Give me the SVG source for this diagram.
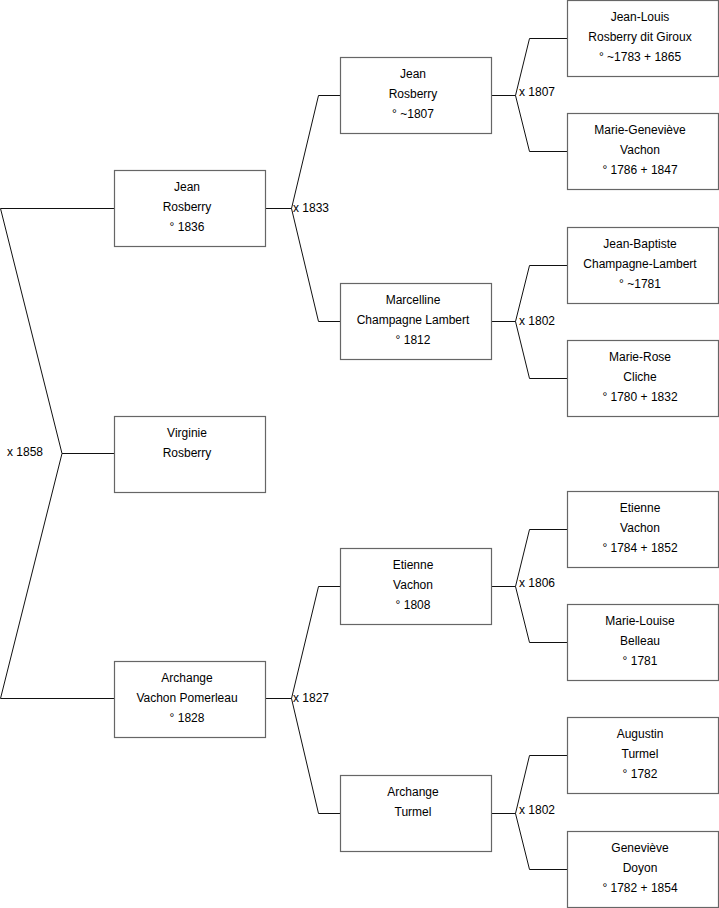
<svg xmlns="http://www.w3.org/2000/svg" width="719" height="908" viewBox="0 0 719 908">
<style>
.box{fill:#fff;stroke:#666;stroke-width:1.2}
.t{font-family:"Liberation Sans",Arial,sans-serif;font-size:12px;fill:#000;text-anchor:middle}
.l{font-family:"Liberation Sans",Arial,sans-serif;font-size:12px;fill:#000}
.c{fill:none;stroke:#111;stroke-width:1}
</style>
<rect width="719" height="908" fill="#fff"/>
<g id="connectors">
<path class="c" d="M0.5 208.5H114M0.5 208.5L62 453.5H114M62 453.5L0.5 698.5H114"/>
<text class="l" x="7" y="456">x 1858</text>
<path class="c" d="M265 208.5H291.5L318.5 95.5H340M291.5 208.5L318.5 321.5H340"/>
<text class="l" x="293" y="212">x 1833</text>
<path class="c" d="M265 698.5H291.5L318.5 586.5H340M291.5 698.5L318.5 813.5H340"/>
<text class="l" x="293" y="702">x 1827</text>
<path class="c" d="M491 95.5H515.5L529.5 38.5H567M515.5 95.5L529.5 151.5H567"/>
<text class="l" x="519" y="96">x 1807</text>
<path class="c" d="M491 321.5H515.5L529.5 265.5H567M515.5 321.5L529.5 378.5H567"/>
<text class="l" x="519" y="325">x 1802</text>
<path class="c" d="M491 586.5H515.5L529.5 529.5H567M515.5 586.5L529.5 642.5H567"/>
<text class="l" x="519" y="587">x 1806</text>
<path class="c" d="M491 813.5H515.5L529.5 755.5H567M515.5 813.5L529.5 869.5H567"/>
<text class="l" x="519" y="814">x 1802</text>
</g>
<g id="n1"><rect class="box" x="114.5" y="170.5" width="151" height="76"/><text class="t" x="187" y="191">Jean</text><text class="t" x="187" y="211">Rosberry</text><text class="t" x="187" y="231">° 1836</text></g>
<g id="n2"><rect class="box" x="114.5" y="416.5" width="151" height="76"/><text class="t" x="187" y="437">Virginie</text><text class="t" x="187" y="457">Rosberry</text></g>
<g id="n3"><rect class="box" x="114.5" y="661.5" width="151" height="76"/><text class="t" x="187" y="682">Archange</text><text class="t" x="187" y="702">Vachon Pomerleau</text><text class="t" x="187" y="722">° 1828</text></g>
<g id="n4"><rect class="box" x="340.5" y="57.5" width="151" height="76"/><text class="t" x="413" y="78">Jean</text><text class="t" x="413" y="98">Rosberry</text><text class="t" x="413" y="118">° ~1807</text></g>
<g id="n5"><rect class="box" x="340.5" y="283.5" width="151" height="76"/><text class="t" x="413" y="304">Marcelline</text><text class="t" x="413" y="324">Champagne Lambert</text><text class="t" x="413" y="344">° 1812</text></g>
<g id="n6"><rect class="box" x="340.5" y="548.5" width="151" height="76"/><text class="t" x="413" y="569">Etienne</text><text class="t" x="413" y="589">Vachon</text><text class="t" x="413" y="609">° 1808</text></g>
<g id="n7"><rect class="box" x="340.5" y="775.5" width="151" height="76"/><text class="t" x="413" y="796">Archange</text><text class="t" x="413" y="816">Turmel</text></g>
<g id="n8"><rect class="box" x="567.5" y="0.5" width="151" height="76"/><text class="t" x="640" y="21">Jean-Louis</text><text class="t" x="640" y="41">Rosberry dit Giroux</text><text class="t" x="640" y="61">° ~1783 + 1865</text></g>
<g id="n9"><rect class="box" x="567.5" y="113.5" width="151" height="76"/><text class="t" x="640" y="134">Marie-Geneviève</text><text class="t" x="640" y="154">Vachon</text><text class="t" x="640" y="174">° 1786 + 1847</text></g>
<g id="n10"><rect class="box" x="567.5" y="227.5" width="151" height="76"/><text class="t" x="640" y="248">Jean-Baptiste</text><text class="t" x="640" y="268">Champagne-Lambert</text><text class="t" x="640" y="288">° ~1781</text></g>
<g id="n11"><rect class="box" x="567.5" y="340.5" width="151" height="76"/><text class="t" x="640" y="361">Marie-Rose</text><text class="t" x="640" y="381">Cliche</text><text class="t" x="640" y="401">° 1780 + 1832</text></g>
<g id="n12"><rect class="box" x="567.5" y="491.5" width="151" height="76"/><text class="t" x="640" y="512">Etienne</text><text class="t" x="640" y="532">Vachon</text><text class="t" x="640" y="552">° 1784 + 1852</text></g>
<g id="n13"><rect class="box" x="567.5" y="604.5" width="151" height="76"/><text class="t" x="640" y="625">Marie-Louise</text><text class="t" x="640" y="645">Belleau</text><text class="t" x="640" y="665">° 1781</text></g>
<g id="n14"><rect class="box" x="567.5" y="717.5" width="151" height="76"/><text class="t" x="640" y="738">Augustin</text><text class="t" x="640" y="758">Turmel</text><text class="t" x="640" y="778">° 1782</text></g>
<g id="n15"><rect class="box" x="567.5" y="831.5" width="151" height="76"/><text class="t" x="640" y="852">Geneviève</text><text class="t" x="640" y="872">Doyon</text><text class="t" x="640" y="892">° 1782 + 1854</text></g>
</svg>
